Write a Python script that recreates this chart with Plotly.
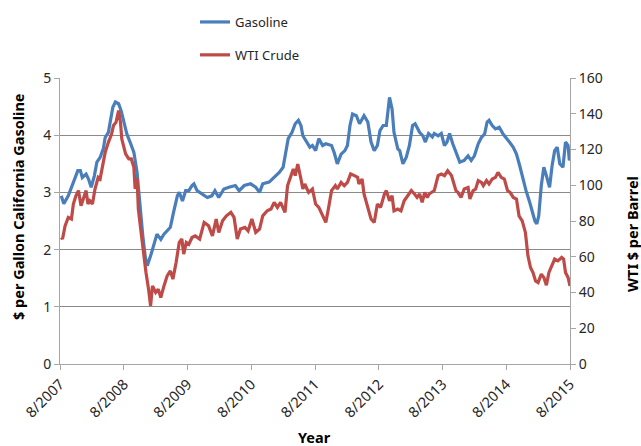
import datetime as dt
import plotly.graph_objects as go

# ---- data (decimal years) ----
gas_years = [2007.60, 2007.64, 2007.71, 2007.79, 2007.86, 2007.90, 2007.93, 2007.99, 2008.03, 2008.07,
             2008.12, 2008.16, 2008.21, 2008.26, 2008.29, 2008.34, 2008.37, 2008.41, 2008.45, 2008.50,
             2008.54, 2008.58, 2008.63, 2008.68, 2008.74, 2008.79, 2008.84, 2008.88, 2008.92, 2008.95,
             2009.00, 2009.05, 2009.10, 2009.16, 2009.21, 2009.26, 2009.31, 2009.36, 2009.42, 2009.45,
             2009.50, 2009.55, 2009.60, 2009.65, 2009.68, 2009.73, 2009.81, 2009.89, 2009.96, 2010.01,
             2010.07, 2010.15, 2010.23, 2010.33, 2010.39, 2010.47, 2010.57, 2010.65, 2010.71, 2010.76,
             2010.86, 2010.94, 2011.02, 2011.08, 2011.12, 2011.16, 2011.22, 2011.27, 2011.32, 2011.36,
             2011.39, 2011.45, 2011.50, 2011.54, 2011.59, 2011.64, 2011.70, 2011.75, 2011.84, 2011.88,
             2011.93, 2011.99, 2012.05, 2012.09, 2012.13, 2012.17, 2012.23, 2012.28, 2012.35, 2012.41,
             2012.46, 2012.51, 2012.56, 2012.60, 2012.65, 2012.70, 2012.75, 2012.79, 2012.82, 2012.88,
             2012.91, 2012.96, 2013.01, 2013.06, 2013.11, 2013.15, 2013.22, 2013.27, 2013.31, 2013.36,
             2013.42, 2013.45, 2013.51, 2013.56, 2013.61, 2013.65, 2013.69, 2013.74, 2013.79, 2013.85,
             2013.92, 2013.98, 2014.03, 2014.08, 2014.14, 2014.19, 2014.24, 2014.28, 2014.31, 2014.36,
             2014.41, 2014.47, 2014.53, 2014.58, 2014.63, 2014.69, 2014.74, 2014.79, 2014.84, 2014.89,
             2014.95, 2014.99, 2015.03, 2015.06, 2015.09, 2015.13, 2015.17, 2015.21, 2015.26, 2015.30,
             2015.34, 2015.38, 2015.42, 2015.47, 2015.51, 2015.55, 2015.57, 2015.58]
gasoline = [2.94, 2.80, 2.94, 3.17, 3.38, 3.38, 3.26, 3.32, 3.23, 3.09,
            3.29, 3.53, 3.61, 3.76, 3.96, 4.05, 4.23, 4.49, 4.58, 4.55,
            4.43, 4.23, 4.02, 3.88, 3.70, 3.35, 2.71, 2.24, 1.86, 1.72,
            1.89, 2.07, 2.27, 2.18, 2.27, 2.33, 2.39, 2.65, 2.94, 3.00,
            2.85, 3.03, 3.03, 3.12, 3.15, 3.03, 2.97, 2.91, 2.94, 3.03,
            2.91, 3.06, 3.09, 3.12, 3.03, 3.12, 3.15, 3.09, 3.00, 3.15,
            3.18, 3.26, 3.35, 3.44, 3.67, 3.94, 4.05, 4.20, 4.26, 4.17,
            3.99, 3.88, 3.79, 3.82, 3.73, 3.94, 3.82, 3.85, 3.82, 3.70,
            3.50, 3.67, 3.73, 3.82, 4.17, 4.37, 4.34, 4.20, 4.34, 4.23,
            3.88, 3.73, 3.82, 4.08, 4.17, 4.17, 4.66, 4.46, 4.05, 3.76,
            3.73, 3.50, 3.61, 3.82, 4.17, 4.20, 4.05, 3.99, 3.88, 4.03,
            3.97, 4.03, 3.99, 4.03, 3.82, 3.88, 4.03, 3.85, 3.70, 3.53,
            3.56, 3.64, 3.56, 3.64, 3.85, 3.96, 4.02, 4.23, 4.26, 4.17,
            4.11, 4.14, 4.02, 3.94, 3.88, 3.79, 3.67, 3.47, 3.23, 3.03,
            2.82, 2.65, 2.50, 2.45, 2.59, 3.12, 3.44, 3.29, 3.09, 3.47,
            3.73, 3.79, 3.50, 3.44, 3.88, 3.82, 3.56, 3.61]

wti_years = [2007.60, 2007.62, 2007.66, 2007.71, 2007.76, 2007.79, 2007.83, 2007.87, 2007.91, 2007.95,
             2007.99, 2008.02, 2008.05, 2008.09, 2008.13, 2008.18, 2008.21, 2008.25, 2008.29, 2008.34,
             2008.39, 2008.42, 2008.46, 2008.50, 2008.53, 2008.55, 2008.61, 2008.66, 2008.70, 2008.74,
             2008.76, 2008.79, 2008.81, 2008.86, 2008.89, 2008.93, 2008.97, 2009.00, 2009.03, 2009.08,
             2009.12, 2009.16, 2009.21, 2009.26, 2009.31, 2009.35, 2009.40, 2009.45, 2009.49, 2009.52,
             2009.56, 2009.60, 2009.65, 2009.70, 2009.77, 2009.84, 2009.91, 2009.97, 2010.03, 2010.07,
             2010.13, 2010.19, 2010.26, 2010.31, 2010.36, 2010.41, 2010.48, 2010.53, 2010.59, 2010.65,
             2010.71, 2010.76, 2010.83, 2010.89, 2010.94, 2010.99, 2011.04, 2011.11, 2011.15, 2011.20,
             2011.24, 2011.27, 2011.31, 2011.36, 2011.39, 2011.42, 2011.48, 2011.54, 2011.59, 2011.64,
             2011.68, 2011.75, 2011.79, 2011.84, 2011.90, 2011.93, 2011.99, 2012.04, 2012.09, 2012.14,
             2012.20, 2012.25, 2012.27, 2012.32, 2012.35, 2012.41, 2012.46, 2012.51, 2012.56, 2012.61,
             2012.67, 2012.70, 2012.75, 2012.79, 2012.82, 2012.88, 2012.93, 2012.98, 2013.03, 2013.09,
             2013.14, 2013.18, 2013.22, 2013.26, 2013.30, 2013.34, 2013.37, 2013.42, 2013.45, 2013.51,
             2013.56, 2013.61, 2013.66, 2013.72, 2013.75, 2013.79, 2013.82, 2013.87, 2013.92, 2013.98,
             2014.01, 2014.06, 2014.10, 2014.14, 2014.19, 2014.22, 2014.27, 2014.31, 2014.36, 2014.41,
             2014.45, 2014.50, 2014.55, 2014.60, 2014.64, 2014.69, 2014.74, 2014.78, 2014.83, 2014.88,
             2014.92, 2014.96, 2015.00, 2015.04, 2015.08, 2015.13, 2015.17, 2015.21, 2015.25, 2015.30,
             2015.34, 2015.39, 2015.45, 2015.48, 2015.51, 2015.55, 2015.58]
wti_crude = [70.8, 69.9, 77.3, 82.0, 81.1, 89.5, 94.1, 97.0, 88.5, 92.3,
             97.0, 89.5, 91.3, 89.5, 97.9, 104.4, 103.5, 111.0, 118.4, 124.0,
             128.7, 133.4, 135.2, 141.8, 135.2, 126.0, 117.5, 114.7, 114.7, 110.0,
             97.9, 104.0, 86.7, 71.7, 62.4, 51.2, 41.9, 32.5, 43.7, 40.0,
             41.9, 37.2, 43.7, 49.3, 52.1, 47.5, 56.8, 68.0, 69.9, 61.5,
             68.0, 67.0, 70.8, 71.7, 69.9, 79.2, 77.3, 71.7, 81.1, 73.6,
             80.1, 82.9, 84.8, 82.0, 69.9, 75.5, 76.4, 74.5, 81.1, 73.6,
             75.5, 82.9, 85.7, 86.7, 90.4, 87.6, 90.4, 84.8, 99.8, 105.4,
             109.1, 105.4, 111.9, 103.5, 97.9, 100.7, 96.0, 97.9, 89.5, 87.6,
             84.8, 79.2, 86.7, 97.0, 99.8, 97.9, 101.6, 99.8, 101.6, 106.3,
             105.4, 104.4, 100.7, 103.5, 95.1, 86.7, 81.1, 79.2, 89.5, 87.6,
             95.1, 97.0, 91.3, 94.1, 85.7, 86.7, 85.7, 91.3, 94.1, 97.0,
             95.1, 93.2, 95.1, 90.4, 96.0, 93.2, 95.1, 96.0, 97.0, 105.4,
             106.3, 105.4, 108.1, 105.4, 101.6, 97.0, 96.0, 93.2, 97.9, 98.8,
             92.3, 97.0, 97.9, 102.6, 101.6, 99.8, 102.6, 100.7, 103.5, 104.4,
             107.2, 104.4, 103.5, 97.0, 96.0, 93.2, 92.3, 82.9, 80.1, 73.6,
             60.5, 54.0, 51.2, 46.5, 45.6, 50.3, 48.4, 44.1, 51.2, 54.9,
             58.7, 57.7, 59.6, 58.7, 51.2, 48.4, 43.7]

tick_dates = ["2007-08-01", "2008-08-01", "2009-08-01", "2010-08-01", "2011-08-01",
              "2012-08-01", "2013-08-01", "2014-08-01", "2015-08-01"]
tick_labels = ["8/2007", "8/2008", "8/2009", "8/2010", "8/2011",
               "8/2012", "8/2013", "8/2014", "8/2015"]


def to_date(y):
    year = int(y)
    start = dt.datetime(year, 1, 1)
    return start + dt.timedelta(days=(y - year) * 365.25)


FONT = "Noto Sans, Liberation Sans, sans-serif"
GRID = "#8a8a8a"
AXIS = "#a6a6a6"
TXT = "#262626"

fig = go.Figure()
fig.add_trace(go.Scatter(x=[to_date(v) for v in gas_years], y=gasoline, name="Gasoline",
                         mode="lines", line=dict(color="#4A7EBB", width=3.2),
                         legendgroup="g1", yaxis="y"))
fig.add_trace(go.Scatter(x=[to_date(v) for v in wti_years], y=wti_crude, name="WTI Crude",
                         mode="lines", line=dict(color="#BE4B48", width=3.2),
                         legendgroup="g2", yaxis="y2"))

fig.update_layout(
    width=641, height=446,
    margin=dict(l=60, r=71, t=78, b=82, autoexpand=False),
    paper_bgcolor="white", plot_bgcolor="white",
    font=dict(family=FONT, size=13, color=TXT),
    showlegend=True,
    legend=dict(x=(195 - 60) / 510, y=(364 - 7) / 286, xanchor="left", yanchor="top",
                orientation="v", traceorder="grouped", tracegroupgap=13, itemwidth=30,
                font=dict(size=13, color=TXT), bgcolor="rgba(0,0,0,0)"),
    xaxis=dict(type="date", range=["2007-08-01", "2015-08-01"],
               tickmode="array", tickvals=tick_dates, ticktext=tick_labels,
               tickangle=-45, ticks="outside", ticklen=5, tickcolor=AXIS,
               showline=True, linecolor=AXIS, linewidth=1, showgrid=False, zeroline=False,
               tickfont=dict(size=14.5, color=TXT)),
    yaxis=dict(range=[0, 5], dtick=1, tick0=0, ticks="outside", ticklen=5, tickcolor=AXIS,
               showline=True, linecolor=AXIS, showgrid=True, gridcolor=GRID, gridwidth=1,
               zeroline=False, tickfont=dict(size=14, color=TXT)),
    yaxis2=dict(range=[0, 160], dtick=20, tick0=0, overlaying="y", side="right",
                ticks="outside", ticklen=5, tickcolor=AXIS, showline=True, linecolor=AXIS,
                showgrid=False, zeroline=False, tickfont=dict(size=14, color=TXT)),
    annotations=[
        dict(text="<b>$ per Gallon California Gasoline</b>", xref="paper", yref="paper",
             x=(18 - 60) / 510, y=(364 - 207) / 286, textangle=-90, showarrow=False,
             xanchor="center", yanchor="middle", font=dict(size=14.5, color="#000000")),
        dict(text="<b>WTI $ per Barrel</b>", xref="paper", yref="paper",
             x=(632 - 60) / 510, y=(364 - 234) / 286, textangle=-90, showarrow=False,
             xanchor="center", yanchor="middle", font=dict(size=14.5, color="#000000")),
        dict(text="<b>Year</b>", xref="paper", yref="paper",
             x=(314 - 60) / 510, y=(364 - 437) / 286, showarrow=False, xanchor="center",
             yanchor="middle", font=dict(size=14.5, color="#000000")),
    ],
)

fig.write_html("out.html", config={"displayModeBar": False},
               post_script="document.body.style.margin='0';")
